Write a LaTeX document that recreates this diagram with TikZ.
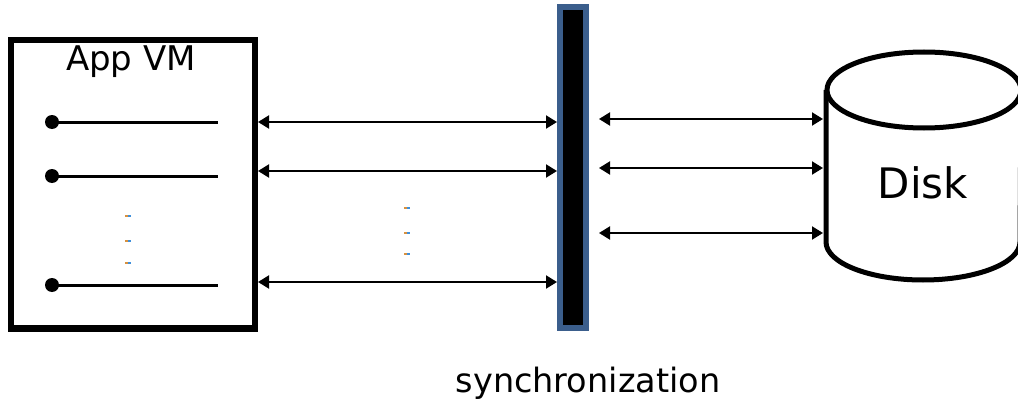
\documentclass[tikz,border=0pt]{standalone}
\usepackage{fontspec}
\setmainfont{DejaVu Sans}
\usetikzlibrary{arrows.meta}
\definecolor{barblue}{HTML}{3B5E8C}
\definecolor{tickorange}{HTML}{D8913F}
\definecolor{tickblue}{HTML}{3E8FDB}
\newcommand{\tick}[2]{%
  \fill[tickorange] (#1-3,#2-1) rectangle (#1,#2+1);
  \fill[tickblue] (#1,#2-1) rectangle (#1+3,#2+1);}

\begin{document}
\begin{tikzpicture}[x=1pt,y=-1pt,
  link/.style={line width=2pt,{Triangle[length=11pt,width=13pt]}-{Triangle[length=11pt,width=13pt]}},
  port/.style={circle,fill=black,inner sep=0pt,minimum size=14pt},
  portline/.style={line width=3pt},
  frame/.style={draw,line width=6.5pt,inner sep=0pt,anchor=north west},
  syncbar/.style={draw=barblue,fill=black,line width=6pt,inner sep=0pt,anchor=north west},
  label/.style={inner sep=0pt}]
\useasboundingbox (0,0) rectangle (1018,404);
\clip (0,0) rectangle (1018,404);

% application VM box
\node[frame,minimum width=244pt,minimum height=288pt] (vm) at (7.5,37) {};
\node[label,font=\fontsize{34}{34}\selectfont] (title) at (131,62) {App VM};

% ports inside the VM
\foreach \y [count=\i] in {122,176,285}{
  \node[port] (p\i) at (52,\y) {};
  \coordinate (pe\i) at (218,\y);
  \draw[portline] (p\i.center) -- (pe\i);
}

% vertical ellipsis marks
\tick{128}{216}\tick{128}{241}\tick{128}{263}
\tick{407}{208}\tick{407}{233}\tick{407}{254}

% synchronization barrier
\node[syncbar,minimum width=26pt,minimum height=321pt] (bar) at (557,4) {};
\node[label,font=\fontsize{33.5}{34}\selectfont] (sync) at (588,383) {synchronization};

% links between VM and barrier
\foreach \y [count=\i] in {122,171,282}{
  \coordinate (ml\i) at (258,\y);
  \coordinate (mr\i) at (557,\y);
  \draw[link] (ml\i) -- (mr\i);
}

% disk cylinder
\coordinate (dtop) at (924,90);
\coordinate (dbot) at (924,242);
\draw[line width=5pt] (826,90) -- (826,242)
  arc[start angle=180,end angle=360,x radius=97pt,y radius=38pt] -- (1021,90);
\draw[line width=5pt] (dtop) ellipse[x radius=97pt,y radius=38pt];
\node[label,font=\fontsize{42}{42}\selectfont] (disk) at (923,183) {Disk};

% links between barrier and disk
\foreach \y [count=\i] in {119,168,233}{
  \coordinate (rl\i) at (599,\y);
  \coordinate (rr\i) at (823,\y);
  \draw[link] (rl\i) -- (rr\i);
}
\end{tikzpicture}
\end{document}
